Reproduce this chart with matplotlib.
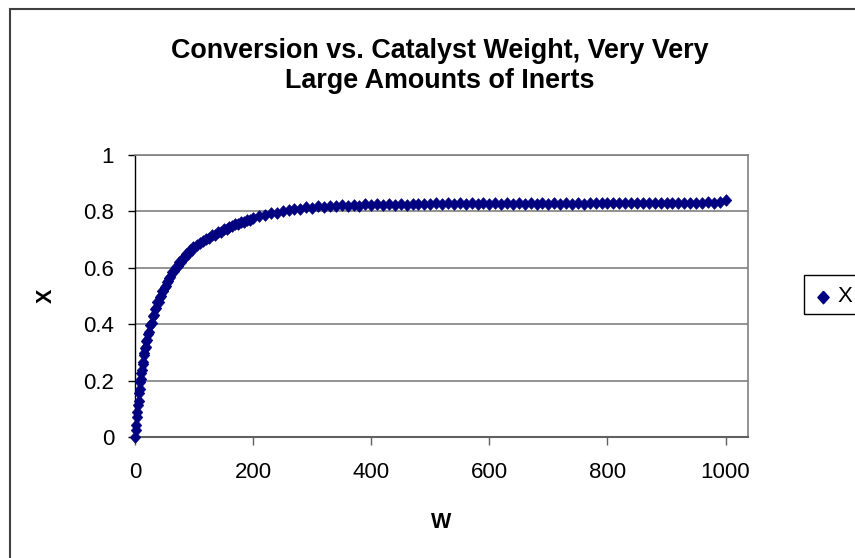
import matplotlib
matplotlib.use("Agg")
import matplotlib.pyplot as plt
from matplotlib.patches import Rectangle
from matplotlib.lines import Line2D

plt.rcParams['font.family'] = ['Liberation Sans', 'DejaVu Sans']

# Catalyst weight W
W = [0, 1, 2, 3, 4, 5, 6, 7, 8, 9, 10, 11, 12, 13, 14, 15, 16, 17, 18, 19, 20,
     22, 24, 26, 28, 30, 32, 34, 36, 38, 40, 42, 44, 46, 48, 50, 52, 54, 56, 58, 60,
     63, 66, 69, 72, 75, 78, 81, 84, 87, 90, 93, 96, 99,
     105, 110, 115, 120, 125, 130, 135, 140, 145, 150, 155, 160, 165, 170, 175,
     180, 185, 190, 195, 200,
     210, 220, 230, 240, 250, 260, 270, 280, 290, 300,
     310, 320, 330, 340, 350, 360, 370, 380, 390, 400,
     410, 420, 430, 440, 450, 460, 470, 480, 490, 500,
     510, 520, 530, 540, 550, 560, 570, 580, 590, 600,
     610, 620, 630, 640, 650, 660, 670, 680, 690, 700,
     710, 720, 730, 740, 750, 760, 770, 780, 790, 800,
     810, 820, 830, 840, 850, 860, 870, 880, 890, 900,
     910, 920, 930, 940, 950, 960, 970, 980, 990, 1000]
# Conversion X
X = [0.000, 0.025, 0.045, 0.072, 0.088, 0.115, 0.130, 0.158, 0.170, 0.195, 0.205,
     0.228, 0.238, 0.260, 0.268, 0.290, 0.298, 0.316, 0.320, 0.340, 0.343,
     0.365, 0.372, 0.398, 0.405, 0.428, 0.432, 0.455, 0.458, 0.478, 0.480,
     0.498, 0.500, 0.517, 0.518, 0.532, 0.535, 0.550, 0.552, 0.566, 0.568,
     0.585, 0.590, 0.605, 0.607, 0.620, 0.622, 0.636, 0.637, 0.650, 0.651,
     0.662, 0.663, 0.674,
     0.680, 0.690, 0.695, 0.703, 0.707, 0.716, 0.718, 0.727, 0.729, 0.737,
     0.739, 0.746, 0.748, 0.755, 0.756, 0.762, 0.763, 0.770, 0.771, 0.777,
     0.784, 0.787, 0.794, 0.796, 0.802, 0.804, 0.809, 0.810, 0.815, 0.814,
     0.818, 0.816, 0.820, 0.818, 0.822, 0.819, 0.823, 0.821, 0.825, 0.822,
     0.826, 0.823, 0.827, 0.823, 0.827, 0.824, 0.828, 0.825, 0.828, 0.825,
     0.829, 0.826, 0.829, 0.826, 0.829, 0.826, 0.830, 0.827, 0.830, 0.827,
     0.830, 0.827, 0.830, 0.827, 0.830, 0.828, 0.830, 0.828, 0.830, 0.828,
     0.831, 0.828, 0.831, 0.828, 0.831, 0.828, 0.831, 0.829, 0.831, 0.829,
     0.831, 0.829, 0.831, 0.829, 0.831, 0.829, 0.831, 0.829, 0.831, 0.829,
     0.831, 0.829, 0.831, 0.830, 0.831, 0.830, 0.832, 0.831, 0.834, 0.841]

x_ticks = [0, 200, 400, 600, 800, 1000]
y_ticks = [0, 0.2, 0.4, 0.6, 0.8, 1]
y_tick_labels = ['0', '0.2', '0.4', '0.6', '0.8', '1']

NAVY = '#000080'
DIAMOND = [(0, 1), (0.9, 0), (0, -1), (-0.9, 0), (0, 1)]

fig = plt.figure(figsize=(8.55, 5.58), dpi=100)

# outer chart border (right/bottom edges fall outside the picture)
fig.patches.append(Rectangle((9.5 / 855, -0.05), 1.1, 1 - 8.5 / 558 + 0.05,
                             transform=fig.transFigure, fill=False,
                             edgecolor='#404040', linewidth=1.5, zorder=0))

ax = fig.add_axes([135 / 855, (558 - 437.3) / 558, (748 - 135) / 855,
                   (437.3 - 155) / 558])
ax.plot(W, X, linestyle='none', marker=DIAMOND, markersize=8.4,
        color=NAVY, markeredgecolor=NAVY, markeredgewidth=0.5,
        label='X', zorder=3, clip_on=False)

ax.set_xlim(0, 1038)
ax.set_ylim(0, 1)
ax.set_xticks(x_ticks)
ax.set_yticks(y_ticks)
ax.set_yticklabels(y_tick_labels)
ax.yaxis.grid(True, color='#808080', linewidth=1.2)
ax.set_axisbelow(True)

for s in ['top', 'right']:
    ax.spines[s].set_color('#808080')
    ax.spines[s].set_linewidth(1.2)
ax.spines['left'].set_color('#000000')
ax.spines['bottom'].set_color('#606060')
ax.spines['left'].set_linewidth(1.0)
ax.spines['bottom'].set_linewidth(1.5)

ax.tick_params(axis='both', direction='out', width=1,
               colors='#000000', labelsize=16)
ax.tick_params(axis='y', length=5, pad=10)
ax.tick_params(axis='x', length=6, colors='#606060', labelcolor='#000000',
               pad=12)

ax.set_xlabel('W', fontsize=15.5, fontweight='bold', va='center')
ax.xaxis.set_label_coords((441 - 135) / 613, (437.3 - 522) / 282.3)
ax.set_ylabel('X', fontsize=15.5, fontweight='bold', va='center')
ax.yaxis.set_label_coords((46 - 135) / 613, (437.3 - 296) / 282.3)

fig.text(440 / 855, 1 - 51 / 558, 'Conversion vs. Catalyst Weight, Very Very',
         ha='center', va='center', fontsize=19.4, fontweight='bold')
fig.text(440 / 855, 1 - 81 / 558, 'Large Amounts of Inerts',
         ha='center', va='center', fontsize=19.4, fontweight='bold')

# legend box (partly cut by the picture edge)
fig.patches.append(Rectangle((804 / 855, 1 - 314 / 558), 0.2, 39 / 558,
                             transform=fig.transFigure, fill=False,
                             edgecolor='#000000', linewidth=1.0))
fig.lines.append(Line2D([822.5 / 855], [1 - 297 / 558], transform=fig.transFigure,
                        marker=DIAMOND, markersize=9, color=NAVY,
                        linestyle='none'))
fig.text(837 / 855, 1 - 296 / 558, 'X', ha='left', va='center', fontsize=16)

fig.savefig('out.png', dpi=100)
